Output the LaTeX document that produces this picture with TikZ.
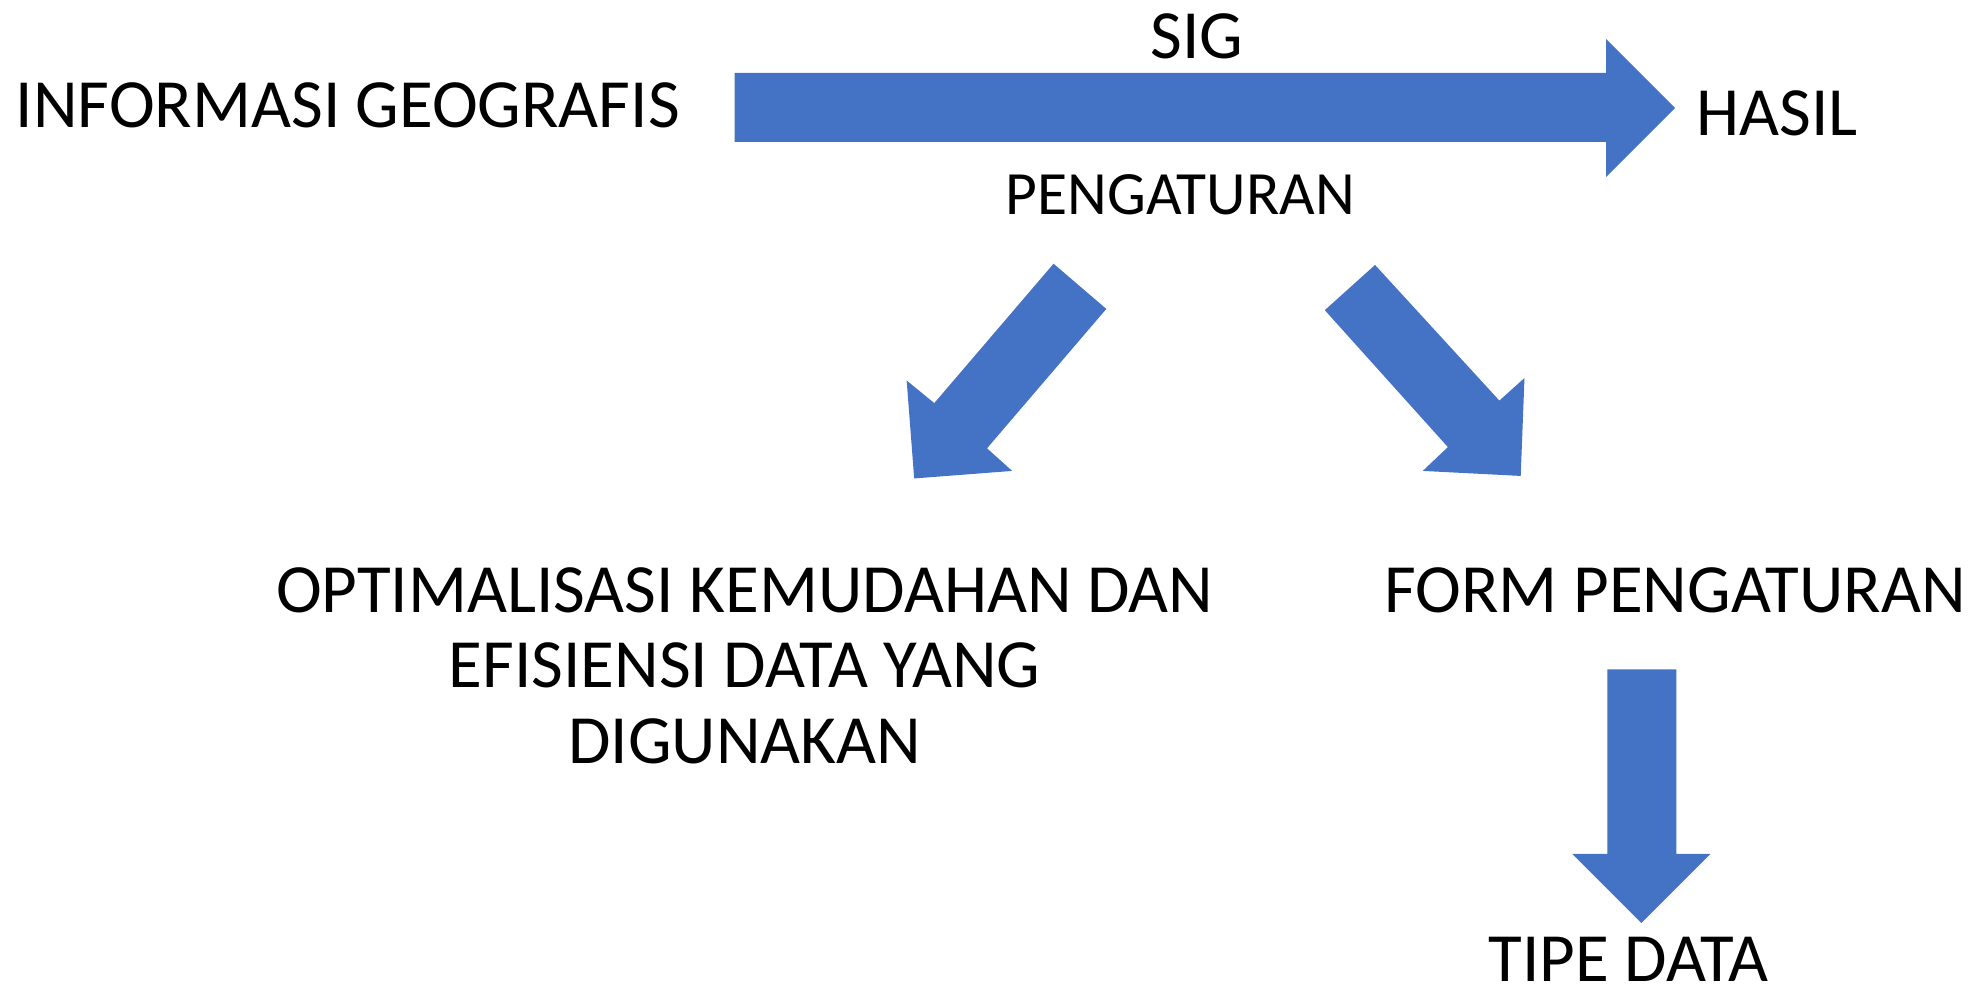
\documentclass[tikz,border=0pt]{standalone}
\usepackage{fontspec}
\setmainfont{Carlito}
\definecolor{arrowblue}{HTML}{4472C4}
\begin{document}
\begin{tikzpicture}[x=1pt,y=-1pt,
  lbl/.style={inner sep=0pt, outer sep=0pt, font=\fontsize{55}{60}\selectfont, text=black},
  smalllbl/.style={lbl, font=\fontsize{49}{54}\selectfont},
  blockarrow/.style={fill=arrowblue, draw=none}]
\useasboundingbox (0,0) rectangle (1568,793);
% text nodes
\node[lbl] (info) at (277,84) {INFORMASI GEOGRAFIS};
\node[lbl] (sig) at (953,29) {SIG};
\node[lbl] (hasil) at (1415,90) {HASIL};
\node[smalllbl] (peng) at (940,155) {PENGATURAN};
\node[lbl, align=center] (opt) at (593,530) {OPTIMALISASI KEMUDAHAN DAN\\EFISIENSI DATA YANG\\DIGUNAKAN};
\node[lbl] (form) at (1334,470) {FORM PENGATURAN};
\node[lbl] (tipe) at (1297,764) {TIPE DATA};
% main right arrow
\fill[blockarrow] (585,58) -- (1279,58) -- (1279,31) -- (1334,86) -- (1279,141) -- (1279,113) -- (585,113) -- cycle;
% left diagonal arrow
\fill[blockarrow] (839,210) -- (881,246) -- (786,357) -- (806,375) -- (728,381) -- (722,303) -- (744,321) -- cycle;
% right diagonal arrow
\fill[blockarrow] (1095,211) -- (1055,247) -- (1153,356) -- (1133,375) -- (1211,379) -- (1214,301) -- (1194,319) -- cycle;
% down arrow
\fill[blockarrow] (1280,533) -- (1335,533) -- (1335,680) -- (1362,680) -- (1307,735) -- (1252,680) -- (1280,680) -- cycle;
\end{tikzpicture}
\end{document}
